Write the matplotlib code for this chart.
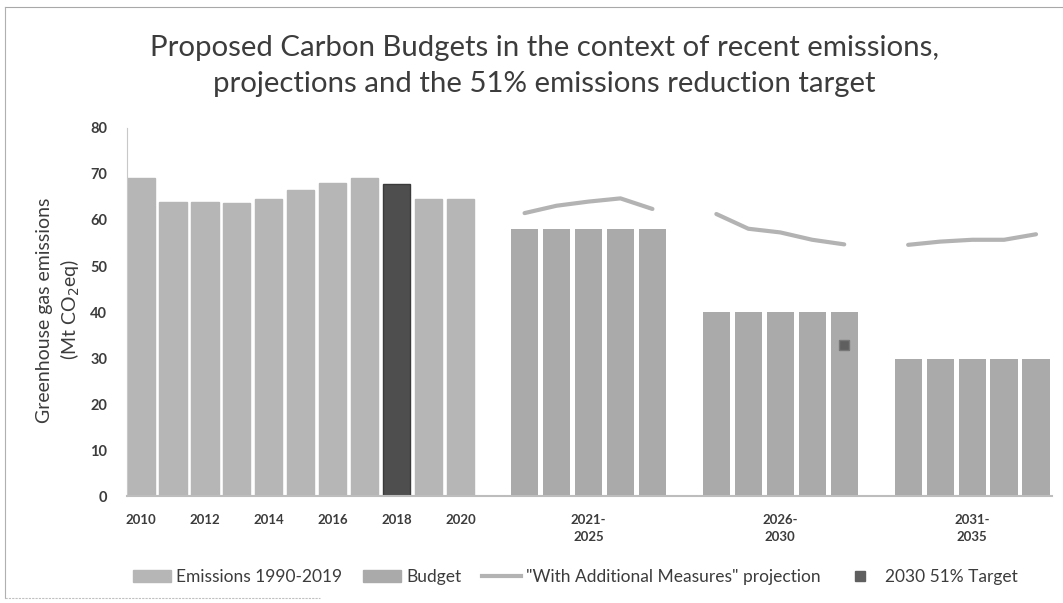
import matplotlib
matplotlib.use("Agg")
import matplotlib.pyplot as plt
from matplotlib.patches import Patch
from matplotlib.lines import Line2D

plt.rcParams['font.family'] = ['Lato', 'DejaVu Sans']

# ---- data ----
emission_years = ["2010", "2011", "2012", "2013", "2014", "2015",
                  "2016", "2017", "2018", "2019", "2020"]
emissions = [69.1, 64.0, 63.9, 63.8, 64.5, 66.5, 68.0, 69.1, 67.8, 64.6, 64.6]
highlight_year = "2018"

budget_periods = ["2021-2025", "2026-2030", "2031-2035"]
budget_years = [["2021", "2022", "2023", "2024", "2025"],
                ["2026", "2027", "2028", "2029", "2030"],
                ["2031", "2032", "2033", "2034", "2035"]]
budget_annual = [58.0, 40.0, 29.8]
wam_projection = [[61.5, 63.1, 64.0, 64.7, 62.4],
                  [61.3, 58.1, 57.3, 55.7, 54.7],
                  [54.6, 55.3, 55.7, 55.7, 56.9]]
target_year = "2030"
target_value = 32.8

y_ticks = [0, 10, 20, 30, 40, 50, 60, 70, 80]

# ---- colours ----
c_emis = "#b6b6b6"
c_budget = "#aaaaaa"
c_dark = "#4e4e4e"
c_line = "#b3b3b3"
c_target = "#5f5f5f"
c_text = "#3c3c3c"

# ---- build category slots ----
cats = list(emission_years)
for yrs in budget_years:
    cats.append("")
    cats.extend(yrs)
pos = {c: i for i, c in enumerate(cats) if c}

W, H = 1063, 603
fig = plt.figure(figsize=(W / 100, H / 100), dpi=100)
ax_l, ax_r, ax_b, ax_t = 126.6, 1052, 496, 128
ax = fig.add_axes([ax_l / W, 1 - ax_b / H, (ax_r - ax_l) / W, (ax_b - ax_t) / H])

bw = 0.85
for yr, v in zip(emission_years, emissions):
    col = c_dark if yr == highlight_year else c_emis
    ax.bar(pos[yr], v, width=bw, color=col,
           edgecolor="#3a3a3a" if yr == highlight_year else col, linewidth=1.0, zorder=2)

for yrs, b, proj in zip(budget_years, budget_annual, wam_projection):
    xs = [pos[y] for y in yrs]
    ax.bar(xs, [b] * len(xs), width=bw, color=c_budget, zorder=2)
    ax.plot(xs, proj, color=c_line, lw=3.0, solid_capstyle='round', zorder=3)

ax.plot([pos[target_year]], [target_value], marker='s', ms=7.5, color=c_target,
        markeredgecolor="#777777", linestyle='none', zorder=4)

ax.set_xlim(-0.45, len(cats) - 0.5)
ax.set_ylim(0, 80)
ax.set_yticks(y_ticks)
ax.set_yticklabels([str(t) for t in y_ticks], fontsize=10.5, fontweight='bold', color=c_text)

xt = [pos[y] for y in emission_years[::2]]
xl = list(emission_years[::2])
for yrs, per in zip(budget_years, budget_periods):
    xt.append(pos[yrs[2]])
    a, b = per.split("-")
    xl.append(a + "-\n" + b)
ax.set_xticks(xt)
ax.set_xticklabels(xl, fontsize=9.5, fontweight='bold', color=c_text, linespacing=1.5)
ax.tick_params(axis='both', length=0)
ax.tick_params(axis='y', pad=14)
ax.tick_params(axis='x', pad=13)

for s in ['top', 'right']:
    ax.spines[s].set_visible(False)
ax.spines['left'].set_color('#c8c8c8')
ax.spines['left'].set_linewidth(0.8)
ax.spines['bottom'].set_color('#bdbdbd')
ax.spines['bottom'].set_linewidth(1.5)

# y label
fig.text(59 / W, 1 - 310 / H, "Greenhouse gas emissions\n(Mt CO$_2$eq)", rotation=90,
         ha='center', va='center', fontsize=14, color=c_text, linespacing=1.35,
         multialignment='center')

# title
fig.text(544 / W, 1 - 66 / H,
         "Proposed Carbon Budgets in the context of recent emissions,\n"
         "projections and the 51% emissions reduction target",
         ha='center', va='center', fontsize=21.2, color=c_text, linespacing=1.45)

# legend
handles = [Patch(facecolor=c_emis, edgecolor=c_emis),
           Patch(facecolor=c_budget, edgecolor=c_budget),
           Line2D([], [], color=c_line, lw=3),
           Line2D([], [], color=c_target, marker='s', ms=7, linestyle='none')]
labels = ["Emissions 1990-2019", "Budget", "\"With Additional Measures\" projection",
          "2030 51% Target"]
fig.legend(handles, labels, loc='center', bbox_to_anchor=(575 / W, 1 - 577 / H), ncol=4,
           frameon=False, fontsize=12.5, handlelength=2.2, handletextpad=0.3,
           columnspacing=1.2, labelcolor=c_text)

# border (scanned frame)
fig.add_artist(Line2D([5 / W, 1], [1 - 7 / H, 1 - 7 / H], color='#a8a8a8', lw=0.8,
                      transform=fig.transFigure))
fig.add_artist(Line2D([5 / W, 5 / W], [1 - 7 / H, 1 - 598 / H], color='#b0b0b0', lw=0.8,
                      transform=fig.transFigure))
fig.add_artist(Line2D([5 / W, 320 / W], [1 - 598 / H, 1 - 598 / H], color='#c0c0c0', lw=0.8,
                      linestyle=(0, (2, 1)), transform=fig.transFigure))

fig.savefig("out.png", dpi=100)
